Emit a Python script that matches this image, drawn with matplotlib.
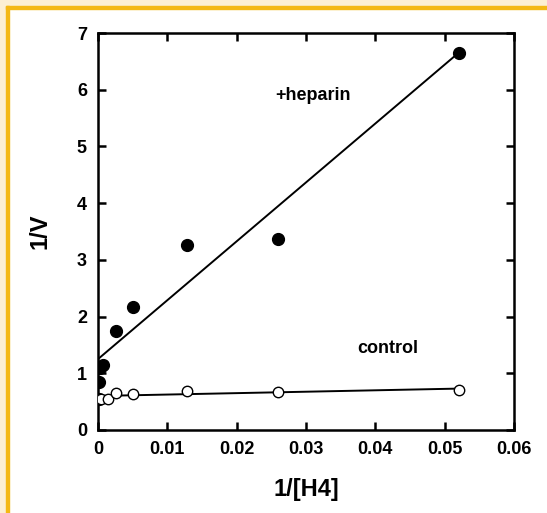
import matplotlib
matplotlib.use("Agg")
import matplotlib.pyplot as plt
from matplotlib.patches import Rectangle

plt.rcParams['font.family'] = ['Liberation Sans', 'DejaVu Sans']
plt.rcParams['font.weight'] = 'bold'

#-------------- data --------------
hep_x = [0.0001, 0.0001, 0.0003, 0.0007, 0.0026, 0.0050, 0.0128, 0.0260, 0.0520]
hep_y = [0.55, 0.84, 1.09, 1.15, 1.75, 2.16, 3.27, 3.37, 6.65]
ctrl_x = [0.0001, 0.0005, 0.0014, 0.0026, 0.0050, 0.0129, 0.0260, 0.0520]
ctrl_y = [0.55, 0.55, 0.54, 0.66, 0.64, 0.69, 0.665, 0.71]

fit_x = [0.0, 0.052]
hep_fit = [1.25, 6.65]
ctrl_fit = [0.60, 0.73]

x_ticks = [0, 0.01, 0.02, 0.03, 0.04, 0.05, 0.06]
x_labels = ['0', '0.01', '0.02', '0.03', '0.04', '0.05', '0.06']
y_ticks = [0, 1, 2, 3, 4, 5, 6, 7]

#-------------- figure --------------
W, H = 547, 513
fig = plt.figure(figsize=(W / 100, H / 100), dpi=100, facecolor='white')

# cream margin + yellow frame on top / left
cream = '#fcefd2'
yellow = '#f4b814'
fig.add_artist(Rectangle((0, 1 - 6 / H), 1, 6 / H, transform=fig.transFigure, color=cream, zorder=0))
fig.add_artist(Rectangle((0, 0), 6 / W, 1, transform=fig.transFigure, color=cream, zorder=0))
fig.add_artist(Rectangle((6 / W, 1 - 9 / H), 1, 3 / H, transform=fig.transFigure, color=yellow, zorder=0))
fig.add_artist(Rectangle((6 / W, 0), 3 / W, 1 - 6 / H, transform=fig.transFigure, color=yellow, zorder=0))

ax = fig.add_axes([98 / W, 1 - 430 / H, 416 / W, 397 / H])
ax.set_facecolor('white')

ax.plot(fit_x, hep_fit, color='black', lw=1.4, zorder=2)
ax.plot(fit_x, ctrl_fit, color='black', lw=1.4, zorder=2)
ax.plot(hep_x, hep_y, 'o', color='black', ms=8.5, zorder=3)
ax.plot(ctrl_x, ctrl_y, 'o', mfc='white', mec='black', mew=1.0, ms=7.5, zorder=3)

ax.set_xlim(0, 0.06)
ax.set_ylim(0, 7)
ax.set_xticks(x_ticks)
ax.set_xticklabels(x_labels)
ax.set_yticks(y_ticks)

for s in ax.spines.values():
    s.set_linewidth(1.8)
ax.tick_params(direction='in', length=6, width=1.8, top=True, right=True,
               labelsize=13, pad=8)

ax.text(0.031, 5.9, '+heparin', fontsize=13, fontweight='bold', ha='center', va='center')
ax.text(0.0418, 1.43, 'control', fontsize=13, fontweight='bold', ha='center', va='center')

ax.set_xlabel('1/[H4]', fontsize=17, fontweight='bold', labelpad=14)
ax.set_ylabel('1/V', fontsize=17, fontweight='bold', labelpad=18)

fig.savefig('out.png', dpi=100, facecolor=fig.get_facecolor())
